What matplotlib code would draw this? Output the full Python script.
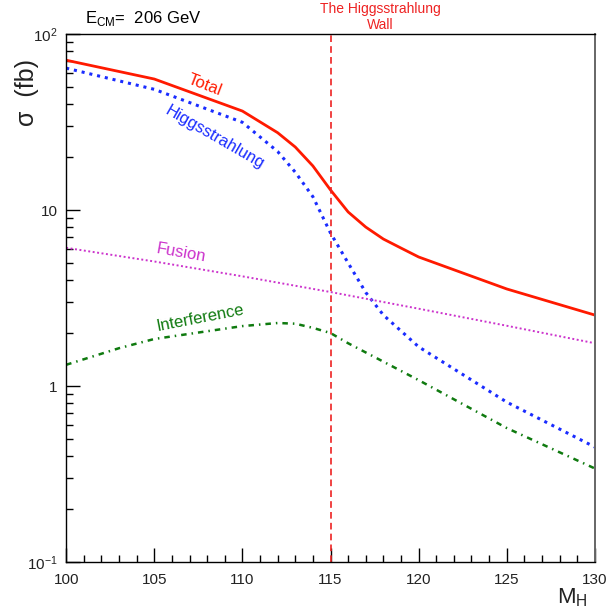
import matplotlib
matplotlib.use("Agg")
import matplotlib.pyplot as plt
import matplotlib.ticker as ticker

plt.rcParams['font.family'] = ['Liberation Sans', 'DejaVu Sans']

# values
mh_total = [100, 105, 110, 112, 113, 114, 115, 116, 117, 118, 119, 120, 125, 130]
sig_total = [71.0, 55.5, 36.5, 27.5, 22.8, 17.8, 13.0, 9.75, 8.0, 6.84, 6.08, 5.41, 3.56, 2.53]

mh_hs = [100, 105, 110, 112, 113, 114, 115, 116, 117, 118, 120, 125, 130]
sig_hs = [64.0, 48.5, 31.5, 21.5, 16.4, 11.9, 7.4, 5.0, 3.4, 2.53, 1.67, 0.81, 0.45]

mh_fus = [100, 105, 110, 115, 120, 125, 130]
sig_fus = [6.1, 5.1, 4.2, 3.42, 2.75, 2.2, 1.75]

mh_int = [100, 103, 105, 110, 112, 113, 114, 115, 116, 120, 125, 130]
sig_int = [1.32, 1.64, 1.85, 2.19, 2.28, 2.26, 2.14, 2.0, 1.75, 1.08, 0.577, 0.34]

wall_mh = 115

fig = plt.figure(figsize=(6.07, 6.12), dpi=100)
ax = fig.add_axes([0.109, 0.0817, 0.871, 0.8627])

ax.plot(mh_total, sig_total, color='#ff1a00', lw=2.0, solid_joinstyle='miter')
ax.plot(mh_hs, sig_hs, color='#1a2cff', lw=2.2, linestyle=(0, (1.0, 1.6)))
ax.plot(mh_fus, sig_fus, color='#cc33cc', lw=1.4, linestyle=(0, (1.0, 1.3)))
ax.plot(mh_int, sig_int, color='#0f7a0f', lw=1.8, linestyle=(0, (2.2, 2.0, 0.6, 2.0)))
ax.axvline(wall_mh, color='#ee2222', lw=1.2, linestyle=(0, (4, 2.5)))

ax.set_yscale('log')
ax.set_xlim(100, 130)
ax.set_ylim(0.1, 100)

ax.xaxis.set_major_locator(ticker.MultipleLocator(5))
ax.xaxis.set_minor_locator(ticker.MultipleLocator(1))
ax.yaxis.set_major_locator(ticker.LogLocator(base=10, numticks=10))
ax.yaxis.set_minor_locator(ticker.LogLocator(base=10, subs=range(2, 10), numticks=20))
ax.yaxis.set_minor_formatter(ticker.NullFormatter())


def ylab(v, pos):
    if abs(v - 0.1) < 1e-9:
        return r'$\mathregular{10^{-1}}$'
    if abs(v - 1) < 1e-9:
        return '1'
    if abs(v - 10) < 1e-9:
        return '10'
    if abs(v - 100) < 1e-9:
        return r'$\mathregular{10^{2}}$'
    return ''


ax.yaxis.set_major_formatter(ticker.FuncFormatter(ylab))
ax.tick_params(which='both', direction='in', top=False, right=False, labelsize=11,
               width=1.0, labelcolor='#222222')
ax.tick_params(which='major', length=10)
ax.tick_params(which='minor', length=5)
ax.tick_params(axis='x', pad=8)
ax.tick_params(axis='y', pad=6)
for s in ax.spines.values():
    s.set_linewidth(1.0)
ax.spines['right'].set_color('#666666')
ax.spines['right'].set_linewidth(1.4)

ax.text(0.262, 0.903, 'Total', transform=ax.transAxes, color='#ff1a00', fontsize=12,
        rotation=-21, ha='center', va='center')
ax.text(0.281, 0.805, 'Higgsstrahlung', transform=ax.transAxes, color='#1a2cff', fontsize=12,
        rotation=-30, ha='center', va='center')
ax.text(0.217, 0.585, 'Fusion', transform=ax.transAxes, color='#cc33cc', fontsize=12,
        rotation=-10, ha='center', va='center')
ax.text(0.253, 0.462, 'Interference', transform=ax.transAxes, color='#0f7a0f', fontsize=12,
        rotation=11, ha='center', va='center')

fig.text(85 / 607, 1 - 18 / 612, r'E$_{\mathregular{CM}}$=  206 GeV', fontsize=12,
         ha='left', va='center')
fig.text(380 / 607, 1 - 17 / 612, 'The Higgsstrahlung\nWall', color='#ee2222', fontsize=10,
         ha='center', va='center', linespacing=1.1)

fig.text(27 / 607, 1 - 92 / 612, 'σ  (fb)', fontsize=18, rotation=90,
         ha='center', va='center', color='#222222')
fig.text(572 / 607, 1 - 598 / 612, r'M$_{\mathregular{H}}$', fontsize=16,
         ha='center', va='center', color='#222222')

fig.savefig('out.png', dpi=100)
